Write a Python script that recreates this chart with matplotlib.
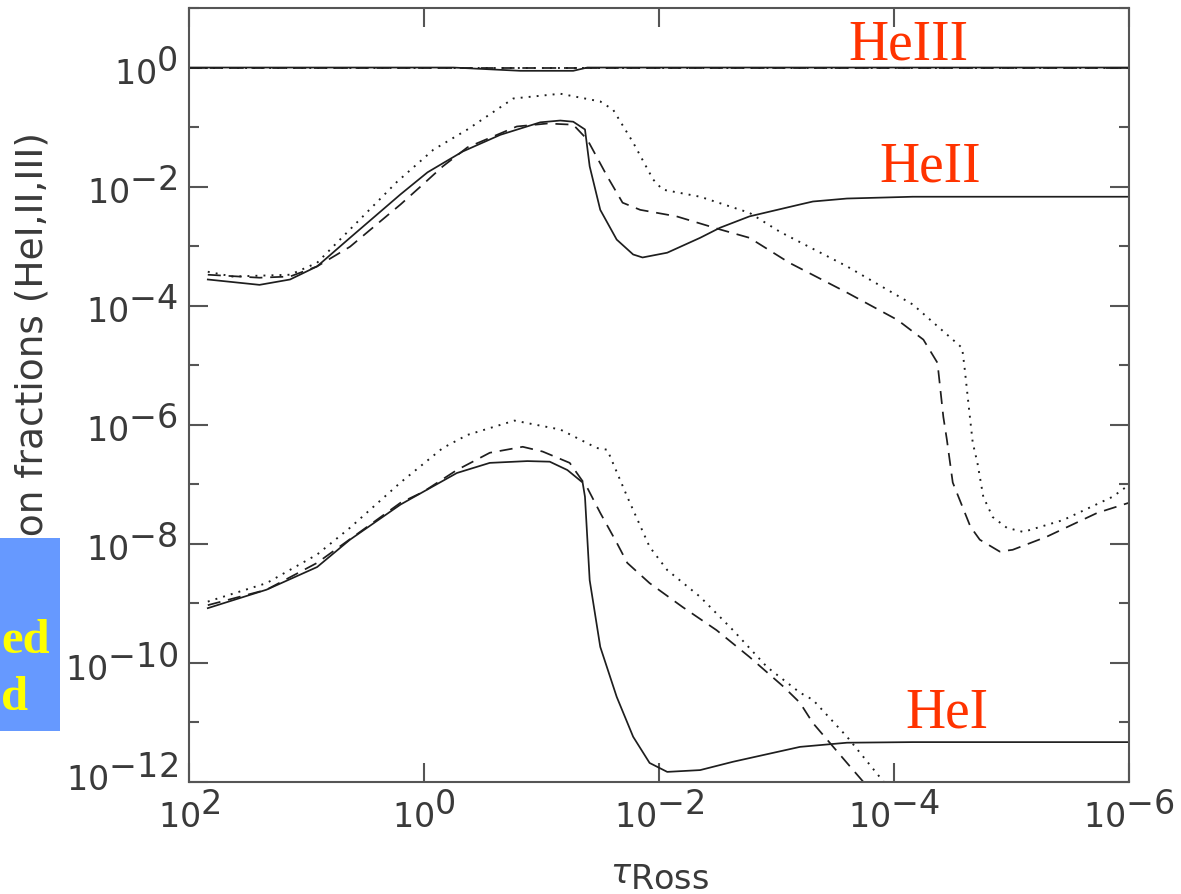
import numpy as np
import matplotlib
matplotlib.use("Agg")
import matplotlib.pyplot as plt
import matplotlib._mathtext as _mt
import matplotlib.transforms as mtransforms
from matplotlib.ticker import FixedLocator, FuncFormatter
from matplotlib.patches import Rectangle

# full-size exponents / subscripts, like the original IDL plot
_mt.SHRINK_FACTOR = 1.0

# ---- data (log10 tau_Ross, log10 fraction) ----
heiii_solid_lt = [2.0, -0.25, -0.82, -1.27, -1.39, -6.0]
heiii_solid_lf = [0.0, 0.0, -0.055, -0.055, 0.0, 0.0]
heiii_other_lt = [2.0, -6.0]
heiii_other_lf = [0.0, 0.0]

heii_solid_lt = [1.84, 1.40, 1.14, 0.91, 0.63, 0.20, -0.03, -0.33, -0.65, -0.99, -1.16, -1.27,
                 -1.37, -1.41, -1.50, -1.64, -1.78, -1.86, -2.07, -2.35, -2.52, -2.77, -3.20,
                 -3.31, -3.60, -4.16, -6.00]
heii_solid_lf = [-3.56, -3.65, -3.56, -3.34, -2.86, -2.13, -1.76, -1.41, -1.13, -0.92, -0.89, -0.91,
                 -1.04, -1.66, -2.39, -2.89, -3.14, -3.19, -3.11, -2.86, -2.69, -2.50, -2.30,
                 -2.25, -2.20, -2.17, -2.17]

heii_dot_lt = [1.84, 1.63, 1.14, 0.91, 0.63, 0.23, -0.08, -0.37, -0.76, -1.16, -1.50, -1.61,
               -1.78, -1.95, -2.03, -2.35, -2.77, -3.03, -3.60, -4.16, -4.50, -4.58, -4.60,
               -4.63, -4.67, -4.71, -4.76, -4.84, -4.96, -5.10, -5.44, -5.86, -6.00]
heii_dot_lf = [-3.43, -3.51, -3.48, -3.28, -2.72, -1.92, -1.38, -1.04, -0.52, -0.44, -0.57, -0.71,
               -1.26, -1.88, -2.05, -2.17, -2.44, -2.76, -3.34, -3.98, -4.57, -4.71, -5.03,
               -5.58, -6.30, -6.64, -7.21, -7.55, -7.73, -7.80, -7.60, -7.21, -7.01]

heii_dash_lt = [1.84, 1.40, 1.14, 0.91, 0.63, 0.20, 0.03, -0.16, -0.37, -0.79, -1.05, -1.27,
                -1.39, -1.56, -1.69, -1.84, -2.15, -2.52, -2.77, -3.11, -3.60, -4.03, -4.25,
                -4.37, -4.42, -4.45, -4.50, -4.65, -4.73, -4.90, -5.01, -5.30, -5.73, -6.00]
heii_dash_lf = [-3.48, -3.53, -3.51, -3.34, -3.01, -2.30, -2.00, -1.66, -1.34, -0.99, -0.94, -0.96,
                -1.21, -1.83, -2.27, -2.39, -2.50, -2.72, -2.86, -3.28, -3.78, -4.24, -4.57,
                -4.96, -5.87, -6.25, -6.97, -7.71, -7.93, -8.13, -8.10, -7.88, -7.48, -7.31]

hei_solid_lt = [1.84, 1.34, 0.91, 0.63, 0.20, 0.01, -0.28, -0.56, -0.88, -1.07, -1.22, -1.35,
                -1.37, -1.41, -1.50, -1.64, -1.78, -1.92, -2.07, -2.35, -2.63, -3.20, -3.60,
                -4.16, -6.00]
hei_solid_lf = [-9.08, -8.77, -8.39, -7.93, -7.34, -7.13, -6.81, -6.64, -6.61, -6.62, -6.76, -6.97,
                -7.21, -8.61, -9.73, -10.57, -11.24, -11.68, -11.83, -11.80, -11.66, -11.41, -11.34,
                -11.33, -11.33]

hei_dot_lt = [1.84, 1.34, 0.91, 0.63, 0.20, -0.16, -0.37, -0.77, -1.16, -1.47, -1.56, -1.73,
              -1.92, -2.07, -2.35, -2.63, -2.92, -3.20, -3.31, -3.60, -3.88, -3.97]
hei_dot_lf = [-8.97, -8.66, -8.18, -7.73, -6.97, -6.39, -6.17, -5.93, -6.08, -6.39, -6.42, -7.21,
              -8.05, -8.44, -8.89, -9.45, -10.07, -10.50, -10.62, -11.24, -11.92, -12.13]

hei_dash_lt = [1.84, 1.34, 0.91, 0.20, 0.01, -0.28, -0.56, -0.84, -1.01, -1.24, -1.39, -1.50,
               -1.64, -1.73, -1.92, -2.20, -2.49, -2.77, -3.06, -3.20, -3.31, -3.60, -3.74, -3.80]
hei_dash_lf = [-9.03, -8.77, -8.32, -7.31, -7.13, -6.76, -6.47, -6.37, -6.45, -6.64, -7.06, -7.48,
               -7.98, -8.32, -8.66, -9.06, -9.45, -9.90, -10.40, -10.67, -11.01, -11.68, -12.00, -12.15]

x_ticks = [1e2, 1e0, 1e-2, 1e-4, 1e-6]
y_major = [1e0, 1e-2, 1e-4, 1e-6, 1e-8, 1e-10, 1e-12]
y_minor = [1e1, 1e-1, 1e-3, 1e-5, 1e-7, 1e-9, 1e-11]

ion_labels = ["HeIII", "HeII", "HeI"]

# ---- figure ----
W, H = 1181, 894
fig = plt.figure(figsize=(W / 100, H / 100), dpi=100)
ax = fig.add_axes([189 / W, 1 - 782 / H, (1129 - 189) / W, (782 - 8) / H])
ax.set_xscale("log")
ax.set_yscale("log")
ax.set_xlim(1e2, 1e-6)
ax.set_ylim(1e-12, 1e1)

lc = "#1e1e1e"
lw = 1.25
solid = dict(color=lc, lw=lw, linestyle="-")
dash = dict(color=lc, lw=lw, linestyle=(0, (7.5, 4.5)))
dot = dict(color=lc, lw=lw * 1.1, linestyle=(0, (1.0, 3.2)))

def p(lt, lf, style):
    ax.plot(10 ** np.array(lt), 10 ** np.array(lf), **style)

p(heiii_other_lt, heiii_other_lf, dot)
p(heiii_other_lt, heiii_other_lf, dash)
p(heiii_solid_lt, heiii_solid_lf, solid)
p(heii_dot_lt, heii_dot_lf, dot)
p(heii_dash_lt, heii_dash_lf, dash)
p(heii_solid_lt, heii_solid_lf, solid)
p(hei_dot_lt, hei_dot_lf, dot)
p(hei_dash_lt, hei_dash_lf, dash)
p(hei_solid_lt, hei_solid_lf, solid)

# ticks
spc = "#555555"
for s in ax.spines.values():
    s.set_color(spc)
    s.set_linewidth(1.5)

def fmt(v, pos):
    e = int(round(np.log10(v)))
    return r"$\mathdefault{10^{%d}}$" % e

txtc = "#3a3a3a"
ax.xaxis.set_major_locator(FixedLocator(x_ticks))
ax.xaxis.set_minor_locator(FixedLocator([]))
ax.yaxis.set_major_locator(FixedLocator(y_major))
ax.yaxis.set_minor_locator(FixedLocator(y_minor))
ax.xaxis.set_major_formatter(FuncFormatter(fmt))
ax.yaxis.set_major_formatter(FuncFormatter(fmt))
ax.yaxis.set_minor_formatter(FuncFormatter(lambda v, p: ""))
ax.tick_params(which="both", direction="in", top=True, right=True, color=spc, width=1.5,
               labelsize=24, labelcolor=txtc)
ax.tick_params(which="major", length=13.5)
ax.tick_params(which="minor", length=7.2)
ax.tick_params(axis="y", pad=8)
ax.tick_params(axis="x", pad=8)

# lift the lowest y label a little (as in the original) so it clears the x labels
yticks = ax.yaxis.get_major_ticks()
lowest = yticks[len(y_major) - 1].label1
lowest.set_transform(lowest.get_transform() +
                     mtransforms.ScaledTranslation(0, 9 / 100, fig.dpi_scale_trans))

ax.set_xlabel(r"$\tau_{\mathrm{Ross}}$", fontsize=24, color=txtc, labelpad=16)
fig.text(33 / W, 1 - 402 / H, "Ionization fractions (HeI,II,III)", rotation=90,
         ha="center", va="center", fontsize=27, color=txtc)

# red ion labels
red = "#ff3300"
lab_pos = [(848, 60), (879, 182), (905, 728)]
for t, (px, py) in zip(ion_labels, lab_pos):
    fig.text(px / W, 1 - py / H, t, color=red, fontsize=40, family="Liberation Serif",
             ha="left", va="baseline")

# blue slide box partly covering the y label
fig.patches.append(Rectangle((0, 1 - 731 / H), 60 / W, (731 - 538) / H,
                             transform=fig.transFigure, facecolor="#6699ff",
                             edgecolor="none", zorder=5))
fig.text(1 / W, 1 - 653 / H, "ed", color="#ffff00", fontsize=35, family="Liberation Serif",
         weight="bold", ha="left", va="baseline", zorder=6)
fig.text(1 / W, 1 - 710 / H, "d", color="#ffff00", fontsize=35, family="Liberation Serif",
         weight="bold", ha="left", va="baseline", zorder=6)

fig.savefig("out.png", dpi=100)
